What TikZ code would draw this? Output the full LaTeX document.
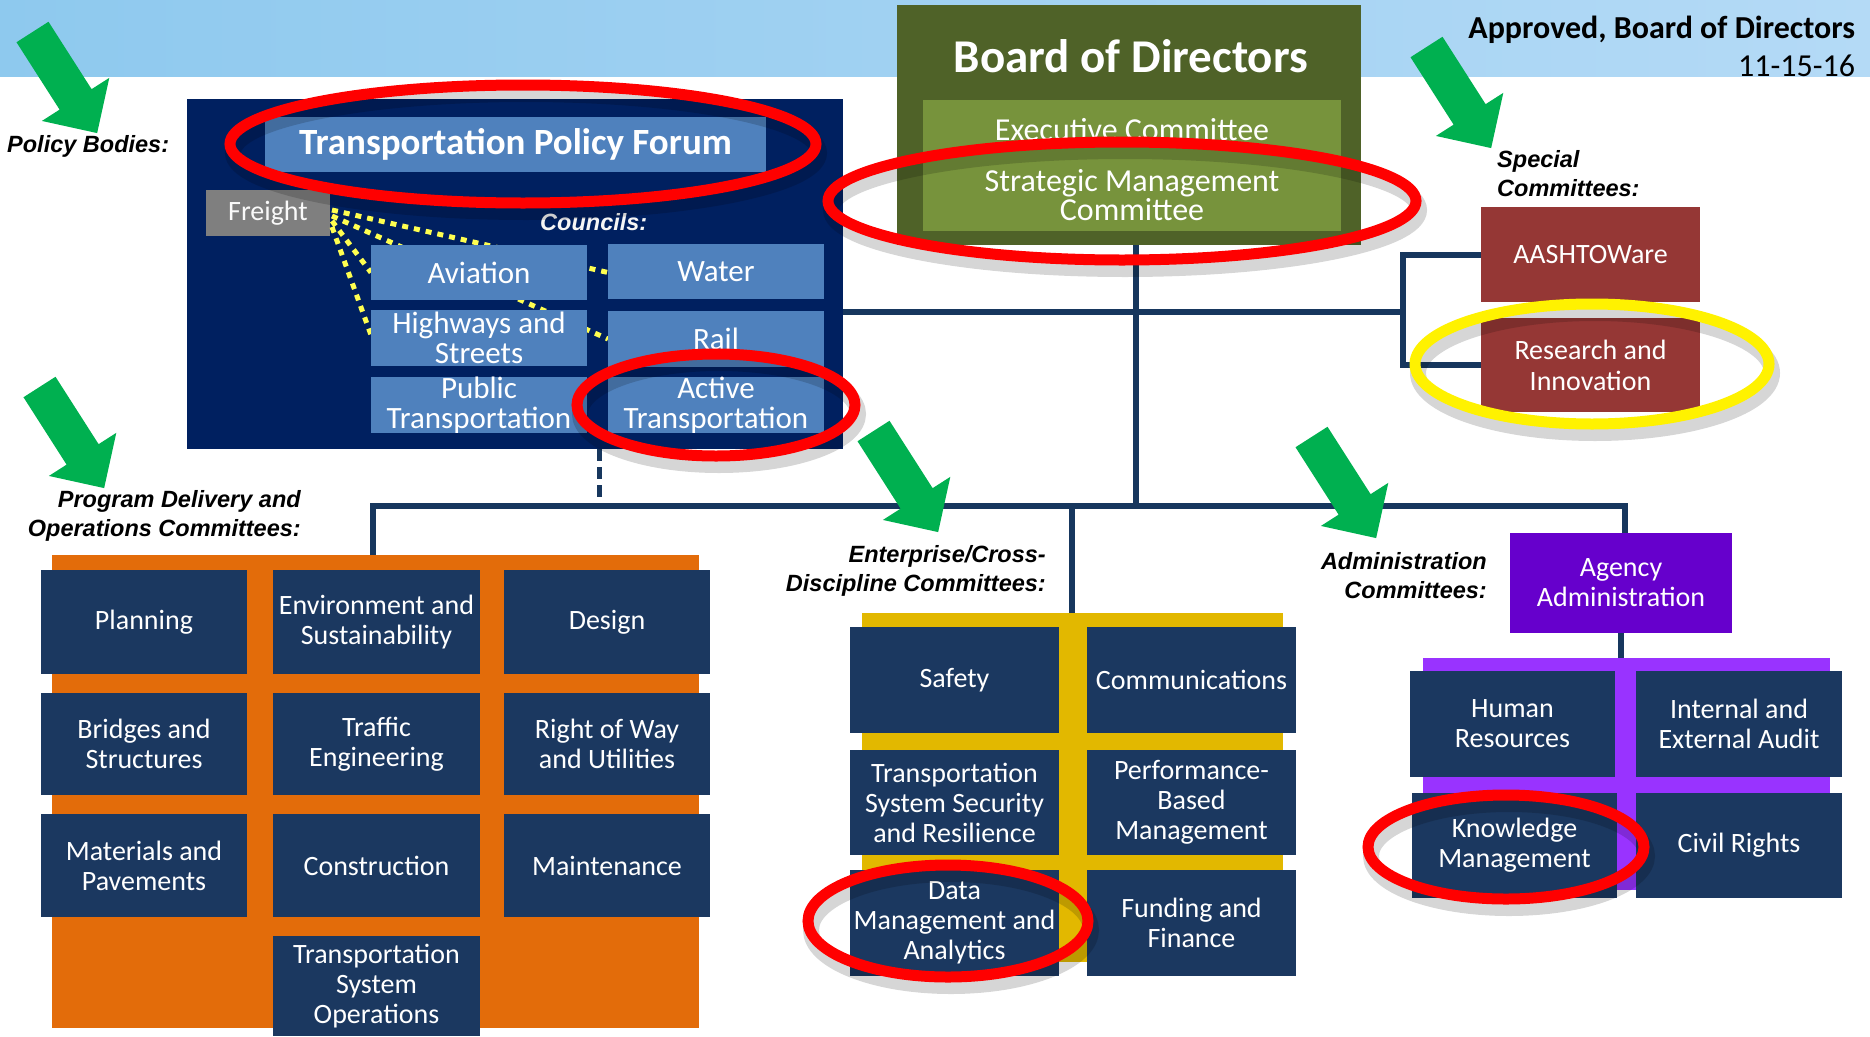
\documentclass[tikz,border=0pt]{standalone}
\usepackage{fontspec}
\setmainfont{Carlito}
\newfontfamily\arialf{Liberation Sans}
\usetikzlibrary{calc}
\definecolor{navybg}{RGB}{0,32,96}
\definecolor{councilblue}{RGB}{79,129,189}
\definecolor{gridnavy}{RGB}{27,56,96}
\definecolor{orangebg}{RGB}{227,108,10}
\definecolor{goldbg}{RGB}{226,184,0}
\definecolor{purplebg}{RGB}{153,51,255}
\definecolor{agencypurple}{RGB}{102,0,204}
\definecolor{boardolive}{RGB}{79,98,40}
\definecolor{execolive}{RGB}{119,147,60}
\definecolor{maroonbox}{RGB}{149,55,53}
\definecolor{linenavy}{RGB}{23,55,94}
\definecolor{arrowgreen}{RGB}{0,176,80}
\definecolor{bandleft}{RGB}{142,201,238}
\definecolor{bandright}{RGB}{180,218,246}
\definecolor{dotyellow}{RGB}{255,255,80}
\definecolor{freightgray}{RGB}{127,127,127}
\newcommand\bx[7]{%
  \pgfmathsetmacro\bxw{#4-(#2)}%
  \pgfmathsetmacro\bxh{#5-(#3)}%
  \pgfmathsetmacro\bxx{(#2+#4)/2}%
  \pgfmathsetmacro\bxy{(#3+#5)/2}%
  \node[#6, minimum width=\bxw pt, minimum height=\bxh pt] (#1) at (\bxx,\bxy) {#7};}
\newcommand\garrow[1]{%
  \begin{scope}[shift={(#1)},rotate=-57.4]
    \fill[arrowgreen] (0,-19) -- (80,-19) -- (80,-40) -- (120,0) -- (80,40) -- (80,19) -- (0,19) -- cycle;
  \end{scope}}
\begin{document}
\begin{tikzpicture}[x=1pt,y=-1pt,
  box/.style={inner sep=0pt, outer sep=0pt, align=center, text=white, font=\fontsize{28}{30}\selectfont},
  plain/.style={inner sep=0pt, outer sep=0pt},
  gridbox/.style={box, fill=gridnavy},
  council/.style={box, fill=councilblue, font=\fontsize{31}{30}\selectfont},
  lbl/.style={inner sep=0pt, font=\arialf\bfseries\itshape\fontsize{23.5}{29}\selectfont},
  conn/.style={linenavy, line width=6pt},
  dashconn/.style={linenavy, line width=5pt, dash pattern=on 12pt off 6pt},
  ring/.style={red, line width=11pt},
  yring/.style={yellow, line width=11pt},
  ringshadow/.style={black, opacity=0.16, line width=16pt},
  yelldots/.style={dotyellow, line width=5pt, dash pattern=on 6pt off 6pt}]
\useasboundingbox (0,0) rectangle (1870,1036);
\fill[white] (0,0) rectangle (1870,1036);
\shade[left color=bandleft,right color=bandright] (0,0) rectangle (1870,76);

% junction coordinates
\coordinate (jL) at (373,506);
\coordinate (jP) at (599,506);
\coordinate (jE) at (1072,506);
\coordinate (jT) at (1136,506);
\coordinate (jR) at (1625,506);
\coordinate (jB) at (1403,312);

% background panels
\bx{policy}{187}{99}{843}{449}{plain, fill=navybg}{}
\bx{progbg}{52}{555}{699}{1028}{plain, fill=orangebg}{}
\bx{entbg}{862}{613}{1283}{962}{plain, fill=goldbg}{}
\bx{admbg}{1423}{658}{1830}{890}{plain, fill=purplebg}{}
\bx{board}{897}{5}{1361}{245}{box, fill=boardolive}{}
\bx{agency}{1510}{533}{1732}{633}{box, fill=agencypurple}{Agency\\Administration}
\bx{aashto}{1481}{207}{1700}{302}{box, fill=maroonbox}{AASHTOWare}
\bx{research}{1481}{318}{1700}{412}{box, fill=maroonbox, font=\fontsize{28}{31}\selectfont}{Research and\\Innovation}

% connectors
\draw[conn] (progbg.north -| jL) -- (jL) -- (jR) -- (agency.north -| jR);
\draw[conn] (board.south -| jT) -- (jT);
\draw[conn] (jE) -- (entbg.north -| jE);
\draw[dashconn] (policy.south -| jP) -- (jP);
\draw[conn] (agency.south) -- (agency.south |- admbg.north);
\draw[conn] (policy.east |- jB) -- (jB);
\draw[conn] (aashto.west) -- (aashto.west -| jB) -- (research.west -| jB) -- (research.west);

% redraw boxes over connectors
\bx{agencyb}{1510}{533}{1732}{633}{box, fill=agencypurple}{Agency\\Administration}
\bx{aashtob}{1481}{207}{1700}{302}{box, fill=maroonbox}{AASHTOWare}
\bx{researchb}{1481}{318}{1700}{412}{box, fill=maroonbox, font=\fontsize{28}{31}\selectfont}{Research and\\Innovation}
\bx{boardb}{897}{5}{1361}{245}{box, fill=boardolive}{}
\node[text=white, font=\bfseries\fontsize{47}{47}\selectfont, inner sep=0pt] (boardtxt) at (1131,56) {Board of Directors};
\bx{exec}{923}{100}{1341}{159}{box, fill=execolive, font=\fontsize{32}{28}\selectfont}{Executive Committee}
\bx{smc}{923}{159}{1341}{231}{box, fill=execolive, font=\fontsize{32}{29}\selectfont}{Strategic Management\\Committee}

% policy bodies
\bx{tpf}{265}{117}{766}{172}{box, fill=councilblue, font=\bfseries\fontsize{37}{37}\selectfont}{Transportation Policy Forum}
\bx{freight}{206}{190}{330}{236}{box, fill=freightgray, text={white!95!gray}}{Freight}
\bx{aviation}{371}{245}{587}{300}{council}{}
\bx{water}{608}{244}{824}{299}{council}{}
\bx{highways}{371}{310}{587}{366}{council}{}
\bx{rail}{608}{311}{824}{367}{council}{}
\draw[yelldots] ($(freight.east)+(2,-3)$) -- ($(water.west)+(0,1)$);
\draw[yelldots] ($(freight.east)+(2,3)$) -- (rail.west);
\draw[yelldots] ($(freight.east)+(2,8)$) -- (aviation.west);
\draw[yelldots] ($(freight.east)+(2,14)$) -- ($(highways.west)+(0,-3)$);
\bx{aviationb}{371}{245}{587}{300}{council}{Aviation}
\bx{waterb}{608}{244}{824}{299}{council}{Water}
\bx{highwaysb}{371}{310}{587}{366}{council}{Highways and\\Streets}
\bx{railb}{608}{311}{824}{367}{council}{Rail}
\bx{public}{371}{377}{587}{433}{council}{Public\\Transportation}
\bx{active}{608}{377}{824}{433}{council}{Active\\Transportation}
\node[lbl, text={white!93!gray}, anchor=west] (councils) at (540,222) {Councils:};

% program delivery grid
\bx{planning}{41}{570}{247}{674}{gridbox}{Planning}
\bx{envsus}{273}{570}{480}{674}{gridbox}{Environment and\\Sustainability}
\bx{design}{504}{570}{710}{674}{gridbox}{Design}
\bx{bridges}{41}{693}{247}{795}{gridbox}{Bridges and\\Structures}
\bx{traffic}{273}{693}{480}{795}{gridbox}{Traffic\\Engineering}
\bx{rowu}{504}{693}{710}{795}{gridbox}{Right of Way\\and Utilities}
\bx{materials}{41}{814}{247}{917}{gridbox}{Materials and\\Pavements}
\bx{construction}{273}{814}{480}{917}{gridbox}{Construction}
\bx{maintenance}{504}{814}{710}{917}{gridbox}{Maintenance}
\bx{tso}{273}{936}{480}{1036}{gridbox}{Transportation\\System\\Operations}

% enterprise grid
\bx{safety}{850}{627}{1059}{733}{gridbox}{Safety}
\bx{comms}{1087}{627}{1296}{733}{gridbox}{Communications}
\bx{tssr}{850}{750}{1059}{855}{gridbox}{Transportation\\System Security\\and Resilience}
\bx{pbm}{1087}{750}{1296}{855}{gridbox}{Performance-\\Based\\Management}
\bx{dma}{850}{870}{1059}{976}{gridbox}{Data\\Management and\\Analytics}
\bx{funding}{1087}{870}{1296}{976}{gridbox}{Funding and\\Finance}

% administration grid
\bx{hr}{1410}{671}{1615}{777}{gridbox}{Human\\Resources}
\bx{audit}{1636}{671}{1842}{777}{gridbox}{Internal and\\External Audit}
\bx{km}{1412}{793}{1617}{898}{gridbox}{Knowledge\\Management}
\bx{civil}{1636}{793}{1842}{898}{gridbox}{Civil Rights}

% labels
\node[lbl, anchor=base west] (polbodies) at (7,152) {Policy Bodies:};
\node[lbl, align=right, anchor=east] (proglbl) at (301,516) {Program Delivery and\\Operations Committees:};
\node[lbl, align=right, anchor=east] (entlbl) at (1046,571) {Enterprise/Cross-\\Discipline Committees:};
\node[lbl, align=right, anchor=east] (admlbl) at (1487,576) {Administration\\Committees:};
\node[lbl, align=left, anchor=west] (speclbl) at (1497,174) {Special\\Committees:};
\node[plain, anchor=east, font=\bfseries\fontsize{32}{32}\selectfont] (approved) at (1855,30) {Approved, Board of Directors};
\node[plain, anchor=east, font=\fontsize{32}{32}\selectfont] (datelbl) at (1855,66) {11-15-16};

% green arrows
\garrow{32.5,32}
\garrow{39.5,387}
\garrow{873.5,431}
\garrow{1311.5,437}
\garrow{1426.5,47}

% highlight rings
\foreach \cx/\cy/\rx/\ry in {523/144/293/59, 1122/201/294/59, 716/405/139/51, 948/921/140/56, 1506/847/138/52, 1592/364/177/60}
  \draw[ringshadow] (\cx+3,\cy+9) ellipse [x radius=\rx pt, y radius=\ry pt];
\draw[ring] (tpf.center) ++(7.5,-0.5) ellipse [x radius=293pt, y radius=59pt];
\draw[ring] (smc.center) ++(-10,6) ellipse [x radius=294pt, y radius=59pt];
\draw[ring] (active.center) ++(0,0) ellipse [x radius=139pt, y radius=51pt];
\draw[ring] (dma.center) ++(-6.5,-2) ellipse [x radius=140pt, y radius=56pt];
\draw[ring] (km.center) ++(-8.5,1.5) ellipse [x radius=138pt, y radius=52pt];
\draw[yring] (research.center) ++(1.5,-1) ellipse [x radius=177pt, y radius=60pt];
\end{tikzpicture}
\end{document}
